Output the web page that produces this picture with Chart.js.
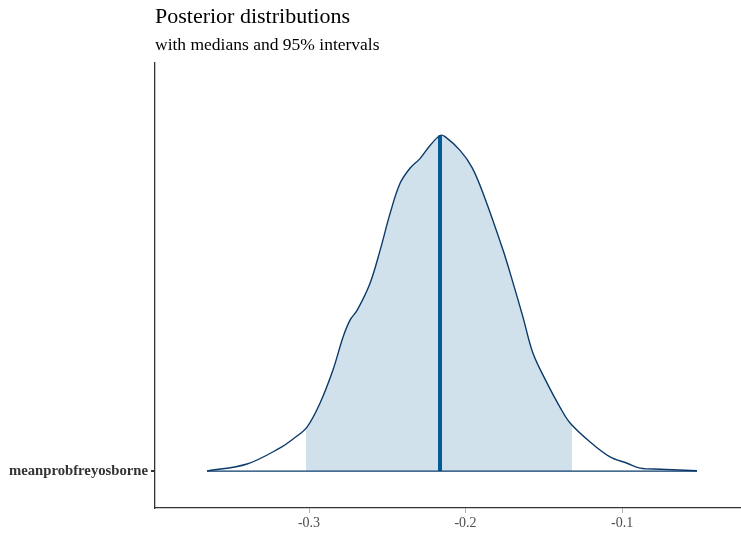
<!DOCTYPE html>
<html>
<head>
<meta charset="utf-8">
<script src="https://cdn.jsdelivr.net/npm/chart.js@4.4.1/dist/chart.umd.min.js"></script>
<style>
  html, body { margin: 0; padding: 0; background: #fff; }
  #wrap { width: 741px; height: 536px; }
</style>
</head>
<body>
<div id="wrap"><canvas id="areas"></canvas></div>
<script>
// posterior draws summarised as a density curve
const parameterLabel = 'meanprobfreyosborne';
const gridX = [-0.3652, -0.3396, -0.3185, -0.3102, -0.3013, -0.2930, -0.2847, -0.2783, -0.2738,
  -0.2693, -0.2610, -0.2546, -0.2482, -0.2419, -0.2355, -0.2291, -0.2227, -0.2163, -0.2131,
  -0.2035, -0.1958, -0.1888, -0.1760, -0.1696, -0.1633, -0.1569, -0.1479, -0.1396, -0.1332,
  -0.1204, -0.1077, -0.0968, -0.0885, -0.0757, -0.0521];
const density = [0.00, 0.19, 0.62, 0.86, 1.18, 1.82, 2.71, 3.59, 4.05,
  4.31, 5.04, 5.92, 6.91, 7.71, 8.12, 8.38, 8.73, 9.00, 8.97,
  8.60, 8.14, 7.45, 5.92, 5.04, 4.13, 3.16, 2.36, 1.71, 1.29,
  0.78, 0.38, 0.21, 0.08, 0.05, 0.01];
const interval95 = [-0.302, -0.132];
const median = -0.2163;
const xTicks = [-0.3, -0.2, -0.1];

function densityAt(x) {
  for (let i = 1; i < gridX.length; i++) {
    if (x <= gridX[i]) {
      const t = (x - gridX[i - 1]) / (gridX[i] - gridX[i - 1]);
      return density[i - 1] + t * (density[i] - density[i - 1]);
    }
  }
  return density[density.length - 1];
}

const curve = gridX.map((x, i) => ({ x: x, y: density[i] }));
const shaded = [{ x: interval95[0], y: densityAt(interval95[0]) }]
  .concat(curve.filter(p => p.x > interval95[0] && p.x < interval95[1]))
  .concat([{ x: interval95[1], y: densityAt(interval95[1]) }]);

const serif = '"Liberation Serif", "Times New Roman", serif';

new Chart(document.getElementById('areas'), {
  type: 'line',
  data: {
    datasets: [
      {
        label: 'density',
        data: curve,
        borderColor: '#0b3a6b',
        borderWidth: 1.4,
        pointRadius: 0,
        fill: false,
        tension: 0.35,
        order: 0
      },
      {
        label: 'baseline',
        data: [{ x: gridX[0], y: 0 }, { x: gridX[gridX.length - 1], y: 0 }],
        borderColor: '#0b3a6b',
        borderWidth: 1.2,
        pointRadius: 0,
        fill: false,
        order: 1
      },
      {
        label: 'median',
        data: [{ x: median, y: 0 }, { x: median, y: densityAt(median) }],
        borderColor: '#005b96',
        borderWidth: 4,
        pointRadius: 0,
        fill: false,
        order: 2
      },
      {
        label: '95% interval',
        data: shaded,
        borderWidth: 0,
        borderColor: 'rgba(0,0,0,0)',
        backgroundColor: '#d1e1ec',
        pointRadius: 0,
        fill: 'origin',
        tension: 0.35,
        order: 3
      }
    ]
  },
  options: {
    responsive: true,
    maintainAspectRatio: false,
    animation: false,
    layout: { padding: { top: 2, right: 0, left: 0, bottom: 0 } },
    plugins: {
      legend: { display: false },
      tooltip: { enabled: false },
      title: {
        display: true,
        text: 'Posterior distributions',
        align: 'start',
        fullSize: false,
        color: '#000',
        font: { family: serif, size: 22, weight: 'normal' },
        padding: { top: 2, bottom: 5 }
      },
      subtitle: {
        display: true,
        text: 'with medians and 95% intervals',
        align: 'start',
        fullSize: false,
        color: '#000',
        font: { family: serif, size: 17.5, weight: 'normal' },
        padding: { top: 0, bottom: 6 }
      }
    },
    scales: {
      x: {
        type: 'linear',
        min: -0.3984,
        max: -0.0240,
        afterBuildTicks: scale => { scale.ticks = xTicks.map(v => ({ value: v })); },
        afterFit: scale => { scale.height = 28; },
        ticks: {
          callback: v => v.toFixed(1),
          color: '#4d4d4d',
          font: { family: serif, size: 14 },
          padding: 2,
          maxRotation: 0
        },
        grid: { drawOnChartArea: false, tickLength: 5, color: '#b0b0b0' },
        border: { display: true, color: '#333', width: 1.3 }
      },
      y: {
        type: 'linear',
        min: -0.99,
        max: 10.96,
        afterBuildTicks: scale => { scale.ticks = [{ value: 0 }]; },
        afterFit: scale => { scale.width = 155; },
        ticks: {
          callback: () => parameterLabel,
          color: '#333',
          font: { family: serif, size: 14.7, weight: 'bold' },
          padding: 3
        },
        grid: { drawOnChartArea: false, tickLength: 4, color: '#333', lineWidth: 2 },
        border: { display: true, color: '#333', width: 1.3 }
      }
    }
  }
});
</script>
</body>
</html>
